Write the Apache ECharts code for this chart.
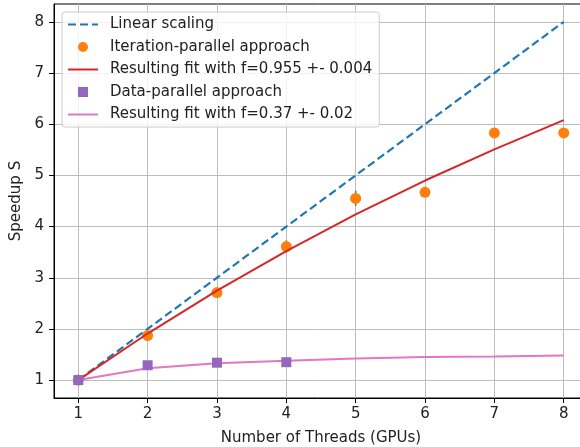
<!DOCTYPE html>
<html>
<head>
<meta charset="utf-8">
<script src="https://cdn.jsdelivr.net/npm/echarts@6/dist/echarts.min.js"></script>
<style>
  html, body { margin: 0; padding: 0; background: #fff; }
  #chart { width: 580px; height: 447px; }
</style>
</head>
<body>
<div id="chart"></div>
<script>
// Speedup measurements versus number of threads (GPUs)
const threads = [1, 2, 3, 4, 5, 6, 7, 8];
const linearScaling = [1, 2, 3, 4, 5, 6, 7, 8];
const iterationSpeedup = [1.00, 1.87, 2.71, 3.61, 4.55, 4.67, 5.83, 5.83];
const iterationError = [0.02, 0.05, 0.06, 0.12, 0.15, 0.06, 0.06, 0.06];
const iterationFit = [1.00, 1.91, 2.75, 3.52, 4.24, 4.90, 5.51, 6.08];
const dataThreads = [1, 2, 3, 4];
const dataSpeedup = [1.00, 1.29, 1.34, 1.35];
const dataFit = [1.00, 1.23, 1.33, 1.38, 1.42, 1.45, 1.46, 1.48];
const tickValues = [1, 2, 3, 4, 5, 6, 7, 8];

const names = [
  'Linear scaling',
  'Iteration-parallel approach',
  'Resulting fit with f=0.955 +- 0.004',
  'Data-parallel approach',
  'Resulting fit with f=0.37 +- 0.02'
];

const FONT = 'DejaVu Sans';
const TEXT = '#222';
const FS = 15;

const pairs = (xs, ys) => xs.map((x, i) => [x, ys[i]]);

const axisCommon = {
  type: 'value',
  min: 0.65,
  max: 8.35,
  minInterval: 1,
  maxInterval: 1,
  axisLine: { show: true, lineStyle: { color: '#000', width: 1 } },
  axisTick: { show: true, length: 5, inside: false, customValues: tickValues, lineStyle: { color: '#000', width: 1 } },
  axisLabel: { customValues: tickValues, fontFamily: FONT, fontSize: FS, color: TEXT },
  splitLine: { show: true, lineStyle: { color: '#bdbdbd', width: 1 } },
  nameLocation: 'middle',
  nameTextStyle: { fontFamily: FONT, fontSize: FS, color: TEXT }
};

const chart = echarts.init(document.getElementById('chart'), null, { renderer: 'canvas' });

chart.setOption({
  animation: false,
  backgroundColor: '#fff',
  grid: {
    left: 54, top: 4, width: 534, height: 394,
    outerBoundsMode: 'none',
    containLabel: false,
    show: true, borderColor: '#000', borderWidth: 1, backgroundColor: 'transparent'
  },
  xAxis: Object.assign({}, axisCommon, {
    name: 'Number of Threads (GPUs)',
    nameGap: 33,
    axisLabel: Object.assign({}, axisCommon.axisLabel, { margin: 9 })
  }),
  yAxis: Object.assign({}, axisCommon, {
    name: 'Speedup S',
    nameGap: 28,
    axisLabel: Object.assign({}, axisCommon.axisLabel, { margin: 10 })
  }),
  legend: {
    orient: 'vertical',
    left: 62,
    top: 12,
    padding: [5, 7, 5, 5],
    itemGap: 7.5,
    itemWidth: 30,
    itemHeight: 10,
    backgroundColor: 'rgba(255,255,255,0.8)',
    borderColor: '#cccccc',
    borderWidth: 1,
    borderRadius: 3,
    textStyle: { fontFamily: FONT, fontSize: FS, color: TEXT, lineHeight: 15, padding: [0, 0, 0, 7] },
    data: [
      { name: names[0], itemStyle: { opacity: 0 } },
      { name: names[1] },
      { name: names[2], itemStyle: { opacity: 0 } },
      { name: names[3], icon: 'path://M0,0h10v10h-10z' },
      { name: names[4], itemStyle: { opacity: 0 } }
    ]
  },
  series: [
    {
      name: names[0],
      type: 'line',
      data: pairs(threads, linearScaling),
      symbol: 'none',
      lineStyle: { color: '#1f77b4', width: 2.2, type: [8, 4] },
      itemStyle: { color: '#1f77b4' },
      z: 2
    },
    {
      name: 'iteration-error',
      type: 'custom',
      data: threads.map((x, i) => [x, iterationSpeedup[i], iterationError[i]]),
      encode: { x: 0, y: 1 },
      renderItem: (params, api) => {
        const x = api.value(0), y = api.value(1), e = api.value(2);
        const top = api.coord([x, y + e]);
        const bot = api.coord([x, y - e]);
        return {
          type: 'line',
          shape: { x1: top[0], y1: top[1], x2: bot[0], y2: bot[1] },
          style: { stroke: '#2ca02c', lineWidth: 1.5 }
        };
      },
      z: 3
    },
    {
      name: names[1],
      type: 'scatter',
      data: pairs(threads, iterationSpeedup),
      symbol: 'circle',
      symbolSize: 11,
      itemStyle: { color: '#ff7f0e', opacity: 1 },
      z: 4
    },
    {
      name: names[2],
      type: 'line',
      data: pairs(threads, iterationFit),
      symbol: 'none',
      lineStyle: { color: '#d62728', width: 2 },
      itemStyle: { color: '#d62728' },
      z: 5
    },
    {
      name: names[4],
      type: 'line',
      data: pairs(threads, dataFit),
      symbol: 'none',
      lineStyle: { color: '#e377c2', width: 2 },
      itemStyle: { color: '#e377c2' },
      z: 6
    },
    {
      name: names[3],
      type: 'scatter',
      data: pairs(dataThreads, dataSpeedup),
      symbol: 'rect',
      symbolSize: 10,
      itemStyle: { color: '#9467bd', opacity: 1 },
      z: 7
    }
  ]
});
</script>
</body>
</html>
